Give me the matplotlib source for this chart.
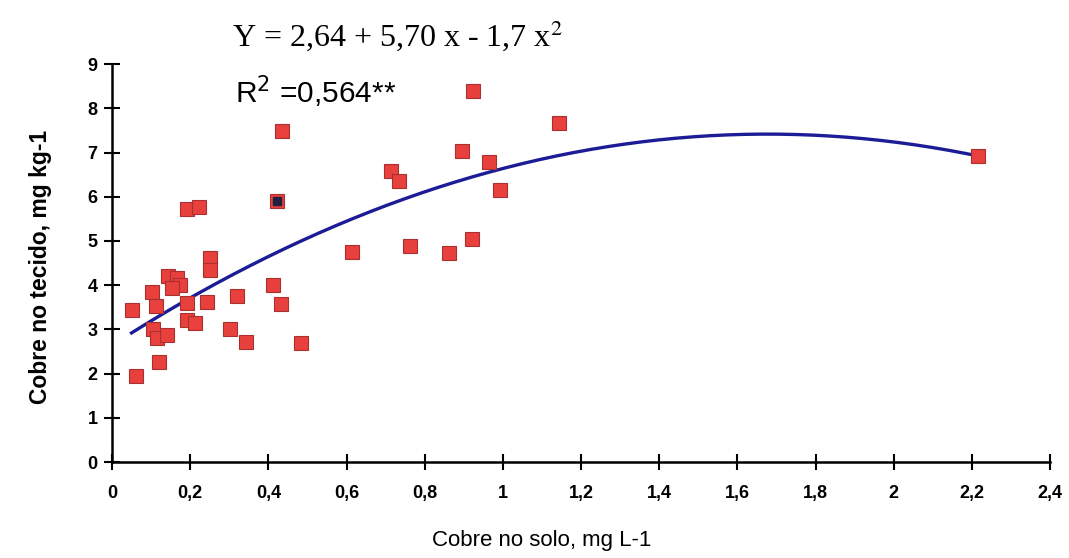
import matplotlib
matplotlib.use('Agg')
import matplotlib.pyplot as plt
import numpy as np

# Copper in soil (x) vs copper in tissue (y)
cu_solo = [0.050, 0.061, 0.121, 0.103, 0.113, 0.104, 0.114, 0.140, 0.144, 0.165,
           0.174, 0.153, 0.193, 0.223, 0.251, 0.251, 0.193, 0.193, 0.212, 0.242,
           0.302, 0.321, 0.342, 0.413, 0.423, 0.432, 0.435, 0.483, 0.613, 0.714,
           0.734, 0.762, 0.863, 0.896, 0.922, 0.924, 0.964, 0.992, 1.144, 2.216]
cu_tecido = [3.45, 1.95, 2.26, 3.85, 3.53, 3.02, 2.80, 2.87, 4.21, 4.16,
             4.00, 3.94, 5.72, 5.78, 4.61, 4.34, 3.59, 3.21, 3.14, 3.63,
             3.02, 3.76, 2.72, 4.00, 5.91, 3.57, 7.49, 2.69, 4.74, 6.58,
             6.36, 4.89, 4.72, 7.04, 5.04, 8.40, 6.79, 6.15, 7.68, 6.93]

# regression coefficients printed on the chart
b0, b1, b2 = 2.64, 5.70, -1.7

x_ticks = [0, 0.2, 0.4, 0.6, 0.8, 1, 1.2, 1.4, 1.6, 1.8, 2, 2.2, 2.4]
x_labels = ['0', '0,2', '0,4', '0,6', '0,8', '1', '1,2', '1,4', '1,6', '1,8', '2', '2,2', '2,4']
y_ticks = [0, 1, 2, 3, 4, 5, 6, 7, 8, 9]

fig = plt.figure(figsize=(10.69, 5.58), dpi=100)
ax = fig.add_axes([0.1048, 0.172, 0.8775, 0.713])

# fitted curve
xc = np.linspace(min(cu_solo), max(cu_solo), 200)
ax.plot(xc, b0 + b1 * xc + b2 * xc ** 2, color='#1c1c96', lw=2.4, zorder=2)

# points
ax.plot(cu_solo, cu_tecido, 's', ms=10.5, color='#e8403c', mec='#a83030', mew=0.8,
        zorder=3, clip_on=False)
# one point has a dark centre in the original
ax.plot([cu_solo[24]], [cu_tecido[24]], 's', ms=5.5, color='#202040', zorder=4)

ax.set_xlim(0, 2.4)
ax.set_ylim(0, 9)
ax.set_xticks(x_ticks)
ax.set_xticklabels(x_labels)
ax.set_yticks(y_ticks)

for s in ['top', 'right']:
    ax.spines[s].set_visible(False)
for s in ['left', 'bottom']:
    ax.spines[s].set_linewidth(1.8)
ax.tick_params(direction='inout', length=11, width=1.5)
ax.tick_params(axis='x', pad=11)
ax.tick_params(axis='y', pad=5)
for lab in ax.get_xticklabels() + ax.get_yticklabels():
    lab.set_family('Liberation Sans')
    lab.set_fontweight('bold')
    lab.set_fontsize(13)

ax.set_ylabel('Cobre no tecido, mg kg-1', fontsize=16.5, fontweight='bold',
              family='Liberation Sans')
ax.yaxis.set_label_coords(-0.064, 0.49)
ax.set_xlabel('Cobre no solo, mg L-1', fontsize=16, family='Liberation Sans')
ax.xaxis.set_label_coords(0.458, -0.172)

fig.text(0.217, 0.937, r'Y = 2,64 + 5,70 x - 1,7 x$^2$', fontsize=23,
         family='Liberation Serif', va='center', ha='left',
         math_fontfamily='stix')
fig.text(0.220, 0.835, r'R$^2$ =0,564**', fontsize=21.5,
         family='Liberation Sans', va='center', ha='left',
         math_fontfamily='dejavusans')

fig.savefig('out.png', dpi=100)
